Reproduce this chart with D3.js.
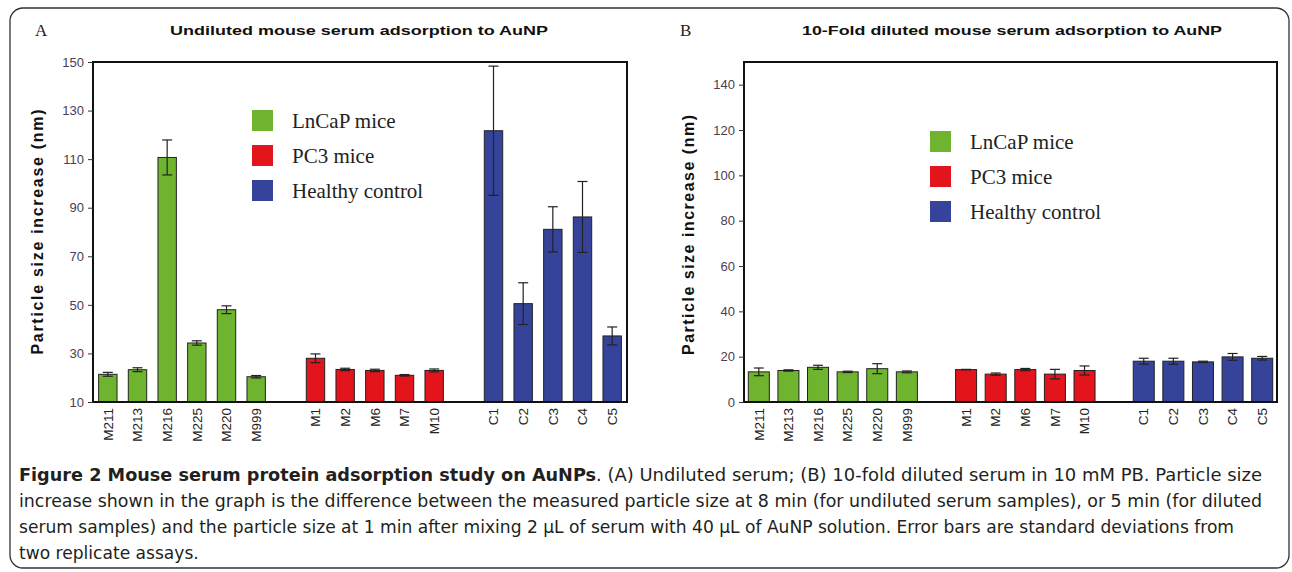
<!DOCTYPE html>
<html><head><meta charset="utf-8">
<script src="https://cdn.jsdelivr.net/npm/d3@7"></script>
<style>
html,body{margin:0;padding:0;background:#fff;}
svg{display:block;}
</style></head>
<body>
<svg id="chart" width="1292" height="572"></svg>
<script>
// ---------- data ----------
const categories = ["M211","M213","M216","M225","M220","M999","M1","M2","M6","M7","M10","C1","C2","C3","C4","C5"];
const groups = ["LnCaP mice","LnCaP mice","LnCaP mice","LnCaP mice","LnCaP mice","LnCaP mice",
                "PC3 mice","PC3 mice","PC3 mice","PC3 mice","PC3 mice",
                "Healthy control","Healthy control","Healthy control","Healthy control","Healthy control"];
const slots = ["M211","M213","M216","M225","M220","M999","_g1","M1","M2","M6","M7","M10","_g2","C1","C2","C3","C4","C5"];
const legendLabels = ["LnCaP mice","PC3 mice","Healthy control"];
const legendColors = ["#6fb42e","#e3141c","#35449a"];

const valuesA = [21.4, 23.3, 110.7, 34.3, 48.0, 20.4, 28.0, 23.4, 23.0, 21.0, 23.0, 121.7, 50.5, 81.1, 86.2, 37.2];
const errorsA = [0.8, 0.8, 7.2, 0.9, 1.6, 0.5, 1.8, 0.5, 0.5, 0.3, 0.6, 26.6, 8.6, 9.3, 14.6, 3.7];
const ticksA = [10, 30, 50, 70, 90, 110, 130, 150];

const valuesB = [13.3, 13.9, 15.3, 13.3, 14.7, 13.3, 14.3, 12.3, 14.3, 12.3, 13.9, 18.0, 18.0, 17.7, 19.9, 19.3];
const errorsB = [1.7, 0.3, 0.9, 0.3, 2.2, 0.4, 0.1, 0.5, 0.5, 2.1, 2.0, 1.3, 1.3, 0.3, 1.5, 0.8];
const ticksB = [0, 20, 40, 60, 80, 100, 120, 140];

const titleA = "Undiluted mouse serum adsorption to AuNP";
const titleB = "10-Fold diluted mouse serum adsorption to AuNP";
const yLabel = "Particle size increase (nm)";
const captionBold = "Figure 2 Mouse serum protein adsorption study on AuNPs";
const captionLines = [
  ". (A) Undiluted serum; (B) 10-fold diluted serum in 10 mM PB. Particle size",
  "increase shown in the graph is the difference between the measured particle size at 8 min (for undiluted serum samples), or 5 min (for diluted",
  "serum samples) and the particle size at 1 min after mixing 2 µL of serum with 40 µL of AuNP solution. Error bars are standard deviations from",
  "two replicate assays."
];

// ---------- drawing ----------
const svg = d3.select("#chart");
const color = d3.scaleOrdinal().domain(legendLabels).range(legendColors);

// outer rounded frame
svg.append("rect").attr("x",10).attr("y",8).attr("width",1279).attr("height",560)
  .attr("rx",13).attr("fill","none").attr("stroke","#333").attr("stroke-width",1.3);

function panel(cfg){
  const g = svg.append("g");
  const x = d3.scaleBand().domain(slots).range([cfg.left, cfg.right]).paddingInner(cfg.pad).paddingOuter(cfg.pad/2);
  const y = d3.scaleLinear().domain(cfg.domain).range([cfg.bottom, cfg.top]);

  // panel letter & title
  g.append("text").attr("x",cfg.letterX).attr("y",36).text(cfg.letter)
    .attr("font-family","'Liberation Serif','Times New Roman',serif").attr("font-size",17).attr("fill","#222");
  g.append("text").attr("x",cfg.titleX).attr("y",35).attr("text-anchor","middle").text(cfg.title)
    .attr("font-family","'Liberation Sans',Arial,sans-serif").attr("font-weight","bold").attr("font-size",13.5)
    .attr("fill","#111").attr("textLength",cfg.titleW).attr("lengthAdjust","spacingAndGlyphs");

  // bars
  const data = categories.map((c,i)=>({c, v:cfg.values[i], e:cfg.errors[i], g:groups[i]}));
  g.selectAll("rect.bar").data(data).join("rect").attr("class","bar")
    .attr("x",d=>x(d.c)).attr("width",x.bandwidth())
    .attr("y",d=>y(d.v)).attr("height",d=>y(cfg.domain[0])-y(d.v))
    .attr("fill",d=>color(d.g)).attr("stroke","#222").attr("stroke-width",1);

  // error bars
  const eb = g.selectAll("g.err").data(data).join("g").attr("class","err")
    .attr("stroke","#222").attr("stroke-width",1.2);
  eb.append("line").attr("x1",d=>x(d.c)+x.bandwidth()/2).attr("x2",d=>x(d.c)+x.bandwidth()/2)
    .attr("y1",d=>y(d.v+d.e)).attr("y2",d=>y(d.v-d.e));
  [1,-1].forEach(s=>{
    eb.append("line").attr("x1",d=>x(d.c)+x.bandwidth()/2-5).attr("x2",d=>x(d.c)+x.bandwidth()/2+5)
      .attr("y1",d=>y(d.v+s*d.e)).attr("y2",d=>y(d.v+s*d.e));
  });

  // frame
  g.append("rect").attr("x",cfg.left).attr("y",cfg.top).attr("width",cfg.right-cfg.left).attr("height",cfg.bottom-cfg.top)
    .attr("fill","none").attr("stroke","#111").attr("stroke-width",2);

  // y axis
  const ya = g.append("g").attr("transform",`translate(${cfg.left},0)`)
    .call(d3.axisLeft(y).tickValues(cfg.ticks).tickSize(5).tickPadding(4).tickFormat(d3.format("d")));
  ya.select(".domain").remove();
  ya.selectAll(".tick line").attr("stroke","#333");
  ya.selectAll(".tick text").attr("font-family","'Liberation Sans',Arial,sans-serif").attr("font-size",13)
    .attr("fill","#4a3d55").attr("x",-9);

  // x labels
  const xa = g.append("g").attr("transform",`translate(0,${cfg.bottom})`)
    .call(d3.axisBottom(x).tickValues(categories).tickSize(0).tickPadding(0));
  xa.select(".domain").remove();
  xa.selectAll(".tick text").attr("font-family","'Liberation Sans',Arial,sans-serif").attr("font-size",13.5)
    .attr("fill","#222").attr("text-anchor","end").attr("dy","0.35em")
    .attr("transform","translate(0,6) rotate(-90)").attr("y",0).attr("x",0);

  // y label
  g.append("text").attr("transform",`translate(${cfg.ylabX},${cfg.ylabY}) rotate(-90)`)
    .attr("text-anchor","middle").text(yLabel)
    .attr("font-family","'Liberation Sans',Arial,sans-serif").attr("font-weight","bold").attr("font-size",16).attr("fill","#111")
    .attr("textLength",cfg.ylabW).attr("lengthAdjust","spacing");

  // legend
  const lg = g.append("g");
  legendLabels.forEach((l,i)=>{
    lg.append("rect").attr("x",cfg.legX).attr("y",cfg.legY+i*35-10).attr("width",21).attr("height",21)
      .attr("fill",legendColors[i]);
    lg.append("text").attr("x",cfg.legX+40).attr("y",cfg.legY+i*35+8).text(l)
      .attr("font-family","'Liberation Serif','Times New Roman',serif").attr("font-size",21).attr("fill","#222");
  });
}

panel({letter:"A", letterX:35, title:titleA, titleX:359, titleW:378,
  left:93, right:627, top:62, bottom:402, domain:[10,150], pad:0.38,
  values:valuesA, errors:errorsA, ticks:ticksA, ylabX:43, ylabY:232, ylabW:245, legX:252, legY:120});
panel({letter:"B", letterX:680, title:titleB, titleX:1012, titleW:420,
  left:744, right:1277, top:62, bottom:402, domain:[0,150], pad:0.29,
  values:valuesB, errors:errorsB, ticks:ticksB, ylabX:694, ylabY:235, ylabW:240, legX:930, legY:141});

// caption
const capFont = "'DejaVu Sans Condensed','Liberation Sans Narrow','Open Sans',sans-serif";
const capY = [481, 507, 533, 559];
const capW = [666, 1243, 1215, null];
svg.append("text").attr("x",19).attr("y",capY[0]).text(captionBold)
  .attr("font-family",capFont).attr("font-weight","bold").attr("font-size",18).attr("fill","#231f20")
  .attr("textLength",577).attr("lengthAdjust","spacingAndGlyphs");
const capNodes = captionLines.map((t,i)=>
  svg.append("text").attr("x", i===0 ? 596 : 19).attr("y",capY[i]).text(t)
    .attr("font-family",capFont).attr("font-size",18).attr("fill","#231f20"));
// last line uses the same compression ratio as the full line above it
const ratio = capW[2] / capNodes[2].node().getComputedTextLength();
const lastW = capNodes[3].node().getComputedTextLength() * ratio;
capNodes.forEach((n,i)=>{
  n.attr("textLength", capW[i] != null ? capW[i] : lastW).attr("lengthAdjust","spacingAndGlyphs");
});
</script>
</body></html>
